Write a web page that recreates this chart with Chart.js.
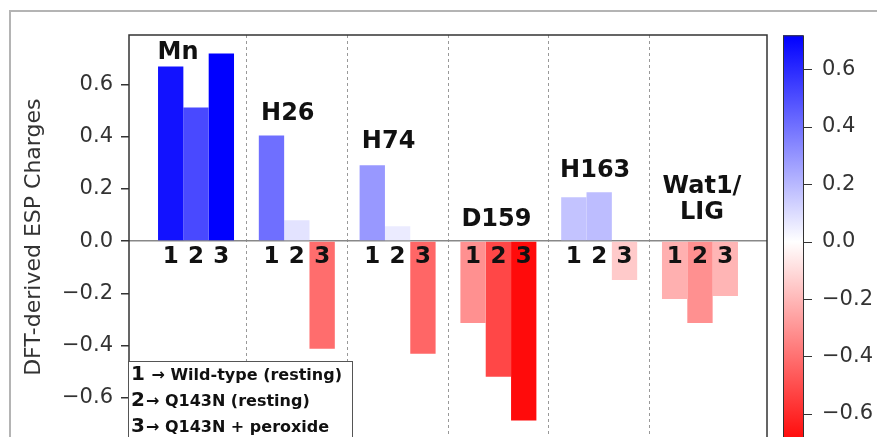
<!DOCTYPE html>
<html>
<head>
<meta charset="utf-8">
<script src="https://cdn.jsdelivr.net/npm/chart.js@4.4.1/dist/chart.umd.min.js"></script>
<style>
  html, body { margin: 0; padding: 0; background: #fff; overflow: hidden; }
  #wrap { width: 877px; height: 460px; }
</style>
</head>
<body>
<div id="wrap"><canvas id="espChart" width="877" height="460"></canvas></div>
<script>
// ================= DATA =================
const residues = ["Mn", "H26", "H74", "D159", "H163", ["Wat1/", "LIG"]];
const stateNames = ["1", "2", "3"];
const wildTypeResting = [0.669, 0.405, 0.291, -0.314, 0.168, -0.222];
const q143nResting    = [0.512, 0.080, 0.057, -0.520, 0.187, -0.314];
const q143nPeroxide   = [0.719, -0.413, -0.432, -0.688, -0.149, -0.210];
const legendLabels = ["Wild-type (resting)", "Q143N (resting)", "Q143N + peroxide"];
const yTicks = [-0.6, -0.4, -0.2, 0.0, 0.2, 0.4, 0.6];

// label nudges in px (style only)
const labelDx = [-18, -9, -9, -2, -4, 2];
const labelDy = [20, 0, -2, 0, 0, -7];

const series = [wildTypeResting, q143nResting, q143nPeroxide];
const vmax = Math.max(...series.flat().map(Math.abs));

// bwr_r colormap: positive -> blue, negative -> red
function bwr(v) {
  const t = Math.min(Math.abs(v) / vmax, 1);
  const c = Math.round(255 * (1 - t));
  return v >= 0 ? `rgb(${c},${c},255)` : `rgb(255,${c},${c})`;
}

function fmt(v) {
  return (v < 0 ? "\u2212" : "") + Math.abs(v).toFixed(1);
}

const FONT = "'DejaVu Sans', sans-serif";

// ================= EXTRAS (labels, legend, colorbar) =================
const extras = {
  id: "extras",
  afterDraw(chart) {
    const ctx = chart.ctx;
    const area = chart.chartArea;
    const xs = chart.scales.x;
    const ys = chart.scales.y;
    const cs = chart.scales.yColor;
    const zero = ys.getPixelForValue(0);

    ctx.save();

    // spines
    ctx.strokeStyle = "#333";
    ctx.lineWidth = 1.5;
    ctx.strokeRect(area.left, area.top, area.right - area.left, area.bottom - area.top);

    // residue labels
    ctx.fillStyle = "#111";
    ctx.textAlign = "center";
    ctx.textBaseline = "alphabetic";
    ctx.font = "bold 24px " + FONT;
    residues.forEach((name, i) => {
      const top = Math.max(0, ...series.map(s => s[i]));
      const base = ys.getPixelForValue(top) - 15 + labelDy[i];
      const lines = Array.isArray(name) ? name : [name];
      const cx = xs.getPixelForValue(i) + labelDx[i];
      lines.forEach((ln, j) => {
        ctx.fillText(ln, cx, base - 26 * (lines.length - 1 - j));
      });
    });

    // state numbers under the zero line
    ctx.font = "bold 23px " + FONT;
    series.forEach((s, k) => {
      chart.getDatasetMeta(k).data.forEach(bar => {
        ctx.fillText(stateNames[k], bar.x, zero + 22);
      });
    });

    // legend box
    const lx = 128.5, ly = 361.5;
    ctx.fillStyle = "#fff";
    ctx.fillRect(lx, ly, 224, 90);
    ctx.strokeStyle = "#555";
    ctx.lineWidth = 1;
    ctx.strokeRect(lx, ly, 224, 90);
    ctx.fillStyle = "#111";
    ctx.textAlign = "left";
    legendLabels.forEach((txt, k) => {
      const by = 380 + 26 * k;
      ctx.font = "bold 20px " + FONT;
      ctx.fillText(stateNames[k], 131, by);
      const w = ctx.measureText(stateNames[k]).width;
      ctx.font = "bold 16px " + FONT;
      ctx.fillText((k === 0 ? " " : "") + "\u2192 " + txt, 131 + w + 1, by);
    });

    // colorbar
    const cbL = 783, cbW = 20;
    const cbTop = cs.getPixelForValue(vmax);
    const cbBot = cs.getPixelForValue(-vmax);
    const grad = ctx.createLinearGradient(0, cbTop, 0, cbBot);
    for (let i = 0; i <= 10; i++) {
      const v = vmax - (2 * vmax * i) / 10;
      grad.addColorStop(i / 10, bwr(v));
    }
    ctx.fillStyle = grad;
    ctx.fillRect(cbL, cbTop, cbW, cbBot - cbTop);
    ctx.strokeStyle = "#333";
    ctx.lineWidth = 1;
    ctx.strokeRect(cbL + 0.5, cbTop + 0.5, cbW, cbBot - cbTop);
    ctx.beginPath();
    yTicks.forEach(v => {
      const py = Math.round(cs.getPixelForValue(v)) + 0.5;
      ctx.moveTo(cbL + cbW, py);
      ctx.lineTo(cbL + cbW + 9, py);
    });
    ctx.stroke();

    // outer frame
    ctx.strokeStyle = "#b4b4b4";
    ctx.lineWidth = 2;
    ctx.strokeRect(10, 11, 1000, 1000);

    ctx.restore();
  }
};

// ================= CHART =================
new Chart(document.getElementById("espChart"), {
  type: "bar",
  data: {
    datasets: series.map((vals, k) => ({
      label: stateNames[k],
      data: vals.map((v, i) => ({ x: i, y: v })),
      backgroundColor: vals.map(bwr),
      borderWidth: 0,
      categoryPercentage: 0.754,
      barPercentage: 1.0
    }))
  },
  options: {
    responsive: false,
    animation: false,
    devicePixelRatio: 1,
    layout: { padding: { left: 10, top: 35, right: 0, bottom: 20 } },
    plugins: { legend: { display: false }, tooltip: { enabled: false } },
    scales: {
      x: {
        type: "linear",
        offset: false,
        min: -0.665,
        max: 5.665,
        afterBuildTicks: s => { s.ticks = residues.slice(1).map((_, i) => ({ value: i + 0.5 })); },
        ticks: { display: false },
        grid: { color: "#999", lineWidth: 1, drawTicks: false, offset: false },
        border: { display: false, dash: [3, 3] }
      },
      y: {
        min: -0.76,
        max: 0.79,
        afterBuildTicks: s => { s.ticks = yTicks.map(v => ({ value: v })); },
        afterFit: s => { s.width = 119; },
        ticks: { callback: v => fmt(v), color: "#333", padding: 8, font: { family: FONT, size: 21 } },
        grid: {
          color: c => (c.tick && c.tick.value === 0 ? "#888" : "rgba(0,0,0,0)"),
          lineWidth: 1.5,
          tickColor: "#333",
          tickLength: 8
        },
        border: { display: false },
        title: {
          display: true,
          text: "DFT-derived ESP Charges",
          color: "#333",
          font: { family: FONT, size: 22 },
          padding: { top: 11, bottom: 0 }
        }
      },
      yColor: {
        axis: "y",
        type: "linear",
        position: "right",
        min: -0.689,
        max: 0.72,
        afterBuildTicks: s => { s.ticks = yTicks.map(v => ({ value: v })); },
        afterFit: s => { s.width = 110; },
        ticks: { callback: v => fmt(v), color: "#333", padding: 8, font: { family: FONT, size: 21 } },
        grid: {
          display: true,
          drawOnChartArea: false,
          drawTicks: true,
          tickLength: 47,
          tickColor: "rgba(0,0,0,0)"
        },
        border: { display: false }
      }
    }
  },
  plugins: [extras]
});
</script>
</body>
</html>
